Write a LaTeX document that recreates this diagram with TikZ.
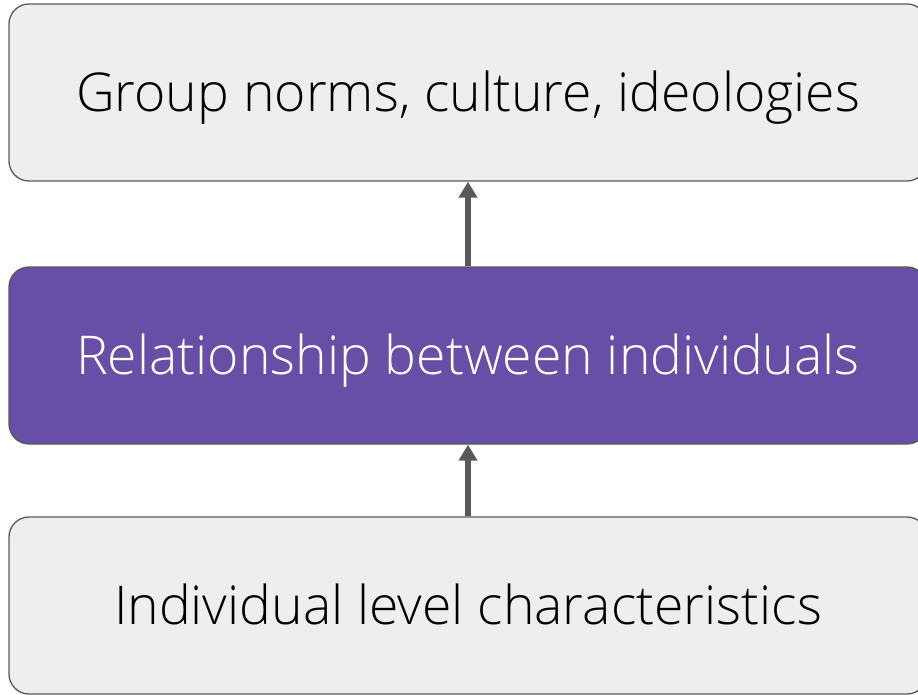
\documentclass[tikz,border=0pt]{standalone}
\usepackage{fontspec}
\setmainfont{Open Sans Light}
\usetikzlibrary{positioning,arrows.meta}
\definecolor{boxgray}{HTML}{EEEEEE}
\definecolor{linegray}{HTML}{595959}
\definecolor{levelpurple}{HTML}{674EA7}

\begin{document}
\begin{tikzpicture}[x=1pt,y=-1pt,>={Triangle[length=16pt,width=18pt]},
    level box/.style={draw=linegray,line width=1.3pt,rounded corners=20pt,fill=boxgray,
        minimum width=918pt,minimum height=177pt,inner sep=0pt,
        text height=38pt,text depth=0pt,font=\fontsize{53.5}{58}\selectfont},
    up arrow/.style={->,draw=linegray,line width=6pt}]
    \useasboundingbox (0,0) rectangle (918,695);
    \node[level box] (group) at (468,92.5) {Group norms, culture, ideologies};
    \node[level box,fill=levelpurple,text=white] (relation) at (468,355.5) {Relationship between individuals};
    \node[level box] (individual) at (468,605.5) {Individual level characteristics};

    \draw[up arrow] (relation.north) -- (group.south);
    \draw[up arrow] (individual.north) -- (relation.south);
\end{tikzpicture}
\end{document}
